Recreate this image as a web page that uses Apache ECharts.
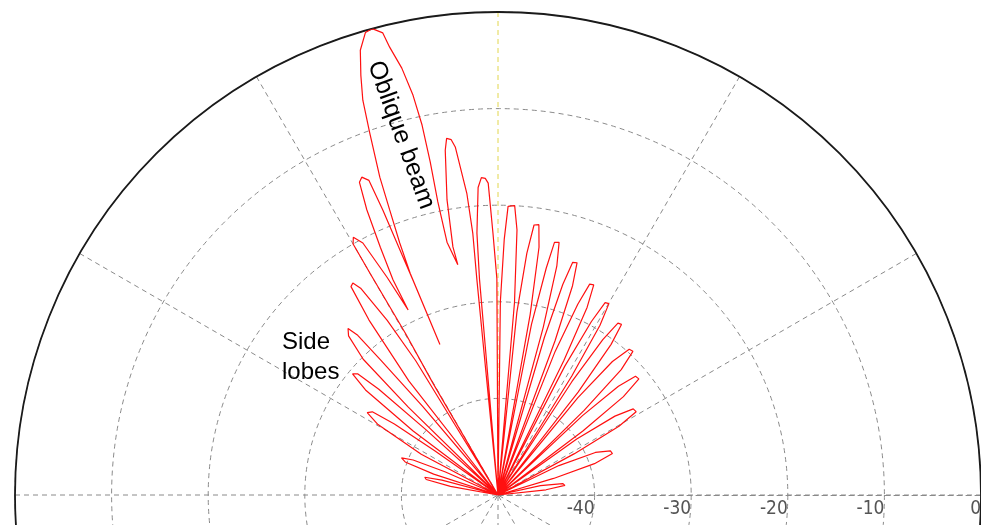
<!DOCTYPE html>
<html>
<head>
<meta charset="utf-8">
<script src="https://cdn.jsdelivr.net/npm/echarts@6/dist/echarts.min.js"></script>
<style>
  html, body { margin: 0; padding: 0; background: #fff; }
  #chart { width: 981px; height: 525px; }
</style>
</head>
<body>
<div id="chart"></div>
<script>
// points are [level in dB, angle in degrees]; -50 dB sits at the centre, 0 dB on the rim
const radiusTicks = [-50, -40, -30, -20, -10, 0]
const spokeAngles = [0, 30, 60, 90, 120, 150, 180, 210, 240, 270, 300, 330]

// side lobes left of the oblique beam, outermost first
const leftLobes = [
  [[-50, 172.0], [-45.0, 169.8], [-42.4, 167.8], [-42.2, 166.4], [-44.0, 165.2], [-50, 163.8]],
  [[-50, 163.8], [-43.0, 162.0], [-39.8, 160.4], [-39.3, 159.0], [-40.5, 157.6], [-44.0, 156.4], [-50, 155.2]],
  [[-50, 155.2], [-41.0, 152.0], [-35.6, 149.6], [-34.0, 147.8], [-34.4, 146.5], [-37.0, 145.6], [-42.0, 145.0], [-50, 144.2]],
  [[-50, 144.2], [-39.0, 143.0], [-32.5, 141.6], [-30.4, 140.2], [-30.8, 139.2], [-33.5, 138.4], [-40.0, 137.8], [-50, 137.0]],
  [[-50, 137.0], [-37.0, 135.6], [-30.2, 134.8], [-27.4, 133.2], [-26.8, 132.0], [-28.0, 131.3], [-31.5, 131.0], [-38.0, 130.4], [-50, 129.6]],
  [[-50, 129.6], [-35.0, 128.0], [-27.5, 126.4], [-23.6, 125.2], [-23.4, 124.4], [-24.3, 123.6], [-28.6, 122.4], [-33.7, 121.5], [-50, 120.8]],
  [[-50, 120.8], [-36.6, 120.2], [-30.8, 119.8], [-23.5, 120.0], [-20.0, 120.0], [-19.4, 119.3], [-20.4, 118.2], [-24.7, 117.0], [-28.7, 115.9]],
  [[-28.7, 115.9], [-25.2, 116.0], [-21.6, 115.4], [-17.5, 114.7], [-14.6, 113.9], [-14.2, 113.2], [-14.8, 112.3], [-18.2, 112.0], [-22.7, 111.8], [-26.1, 111.6], [-33.3, 111.1]]
]

// main (oblique) beam
const mainBeam = [
  [-33.3, 111.1], [-25.3, 111.6], [-22.0, 111.3], [-18.4, 110.8], [-14.9, 110.4], [-10.2, 109.5],
  [-6.8, 108.9], [-4.3, 108.1], [-1.8, 107.2], [-0.2, 106.0], [0, 105.1], [-0.7, 104.0],
  [-2.3, 103.6], [-4.7, 102.7], [-7.7, 102.0], [-10.9, 101.6], [-14.8, 101.5], [-19.0, 101.6],
  [-23.3, 101.4], [-25.8, 99.9]
]

// side lobes right of the beam, going clockwise
const rightLobes = [
  [[-25.8, 99.9], [-23.9, 100.3], [-19.0, 99.8], [-13.9, 98.7], [-12.7, 98.2], [-12.9, 97.5], [-13.7, 97.0], [-18.6, 95.9], [-22.8, 95.5], [-27.6, 95.6], [-50, 95.4]],
  [[-50, 95.4], [-27.6, 94.9], [-22.8, 94.6], [-18.1, 93.7], [-17.1, 93.0], [-17.2, 92.3], [-17.7, 91.8], [-22.9, 91.1], [-27.6, 90.3], [-50, 89.8]],
  [[-50, 89.8], [-30.0, 89.3], [-23.5, 88.6], [-20.1, 88.0], [-20.0, 86.7], [-22.5, 85.9], [-30.0, 85.1], [-50, 84.6]],
  [[-50, 84.6], [-31.0, 84.1], [-24.8, 83.2], [-21.8, 82.4], [-21.7, 81.4], [-24.0, 80.6], [-31.0, 79.9], [-50, 79.4]],
  [[-50, 79.4], [-32.0, 78.9], [-26.0, 78.0], [-23.2, 77.4], [-23.1, 76.4], [-25.5, 75.6], [-32.0, 74.9], [-50, 74.3]],
  [[-50, 74.3], [-33.0, 73.6], [-27.2, 72.9], [-24.7, 72.2], [-24.6, 71.2], [-27.0, 70.4], [-33.0, 69.7], [-50, 69.0]],
  [[-50, 69.0], [-34.0, 68.3], [-28.6, 67.3], [-26.2, 66.5], [-26.1, 65.5], [-28.5, 64.6], [-34.5, 63.9], [-50, 63.2]],
  [[-50, 63.2], [-35.0, 62.6], [-29.6, 61.7], [-27.2, 60.9], [-27.1, 59.9], [-29.5, 59.0], [-35.5, 58.2], [-50, 57.4]],
  [[-50, 57.4], [-36.0, 56.9], [-30.6, 56.0], [-28.3, 55.1], [-28.2, 54.1], [-30.5, 53.1], [-36.5, 52.1], [-50, 51.2]],
  [[-50, 51.2], [-37.0, 50.6], [-31.8, 49.4], [-29.7, 48.0], [-29.6, 46.8], [-31.8, 45.5], [-37.5, 44.5], [-50, 43.7]],
  [[-50, 43.7], [-38.0, 43.2], [-33.2, 42.1], [-31.2, 40.8], [-31.1, 39.5], [-33.5, 38.1], [-39.0, 37.0], [-50, 36.2]],
  [[-50, 36.2], [-40.0, 35.4], [-35.4, 34.0], [-33.4, 32.5], [-33.3, 31.1], [-35.6, 29.6], [-41.0, 28.4], [-50, 27.4]],
  [[-50, 27.4], [-43.0, 25.8], [-39.0, 23.6], [-37.5, 21.4], [-37.4, 19.9], [-39.5, 18.0], [-44.0, 16.6], [-50, 15.4]],
  [[-50, 15.4], [-45.5, 12.4], [-43.2, 10.0], [-43.0, 8.2], [-45.0, 6.2], [-50, 4.0]]
]

const pattern = [].concat(...leftLobes, mainBeam, ...rightLobes)

const gridGray = '#8a8a8a'
// the 90 deg spoke is drawn yellow in the original
const spokeColors = spokeAngles.map(a => (a === 90 ? '#e2d64c' : gridGray))

const chart = echarts.init(document.getElementById('chart'))

const option = {
  animation: false,
  polar: {
    center: [498, 495],
    radius: 483
  },
  angleAxis: {
    type: 'value',
    min: 0,
    max: 360,
    interval: 30,
    startAngle: 0,
    clockwise: false,
    axisLine: { lineStyle: { color: '#1a1a1a', width: 1.8 } },
    axisTick: { show: false },
    axisLabel: { show: false },
    splitLine: { lineStyle: { color: spokeColors, type: [5, 4], width: 1 } }
  },
  radiusAxis: {
    type: 'value',
    min: radiusTicks[0],
    max: radiusTicks[radiusTicks.length - 1],
    interval: 10,
    axisLine: { lineStyle: { color: gridGray, type: [5, 4], width: 1 } },
    axisTick: { show: false },
    axisLabel: {
      showMinLabel: false,
      color: '#555',
      fontSize: 19,
      fontFamily: 'Liberation Sans Narrow, DejaVu Sans Condensed, sans-serif',
      align: 'right',
      verticalAlign: 'top',
      // labels sit under the line, so push them the other way
      margin: -5
    },
    splitLine: { lineStyle: { color: gridGray, type: [5, 4], width: 1 } }
  },
  series: [{
    type: 'line',
    coordinateSystem: 'polar',
    data: pattern,
    showSymbol: false,
    lineStyle: { color: '#ff1010', width: 1.2 },
    z: 5
  }],
  graphic: [
    {
      type: 'text',
      x: 401,
      y: 135,
      rotation: -70 * Math.PI / 180,
      style: {
        text: 'Oblique beam',
        fontSize: 25,
        fontFamily: 'Liberation Sans, Arial, sans-serif',
        fill: '#000',
        align: 'center',
        verticalAlign: 'middle'
      },
      z: 10
    },
    {
      type: 'text',
      x: 282,
      y: 327,
      style: {
        text: 'Side\nlobes',
        fontSize: 24,
        lineHeight: 30,
        fontFamily: 'Liberation Sans, Arial, sans-serif',
        fill: '#000',
        align: 'left',
        verticalAlign: 'top'
      },
      z: 10
    }
  ]
}

chart.setOption(option)
</script>
</body>
</html>
